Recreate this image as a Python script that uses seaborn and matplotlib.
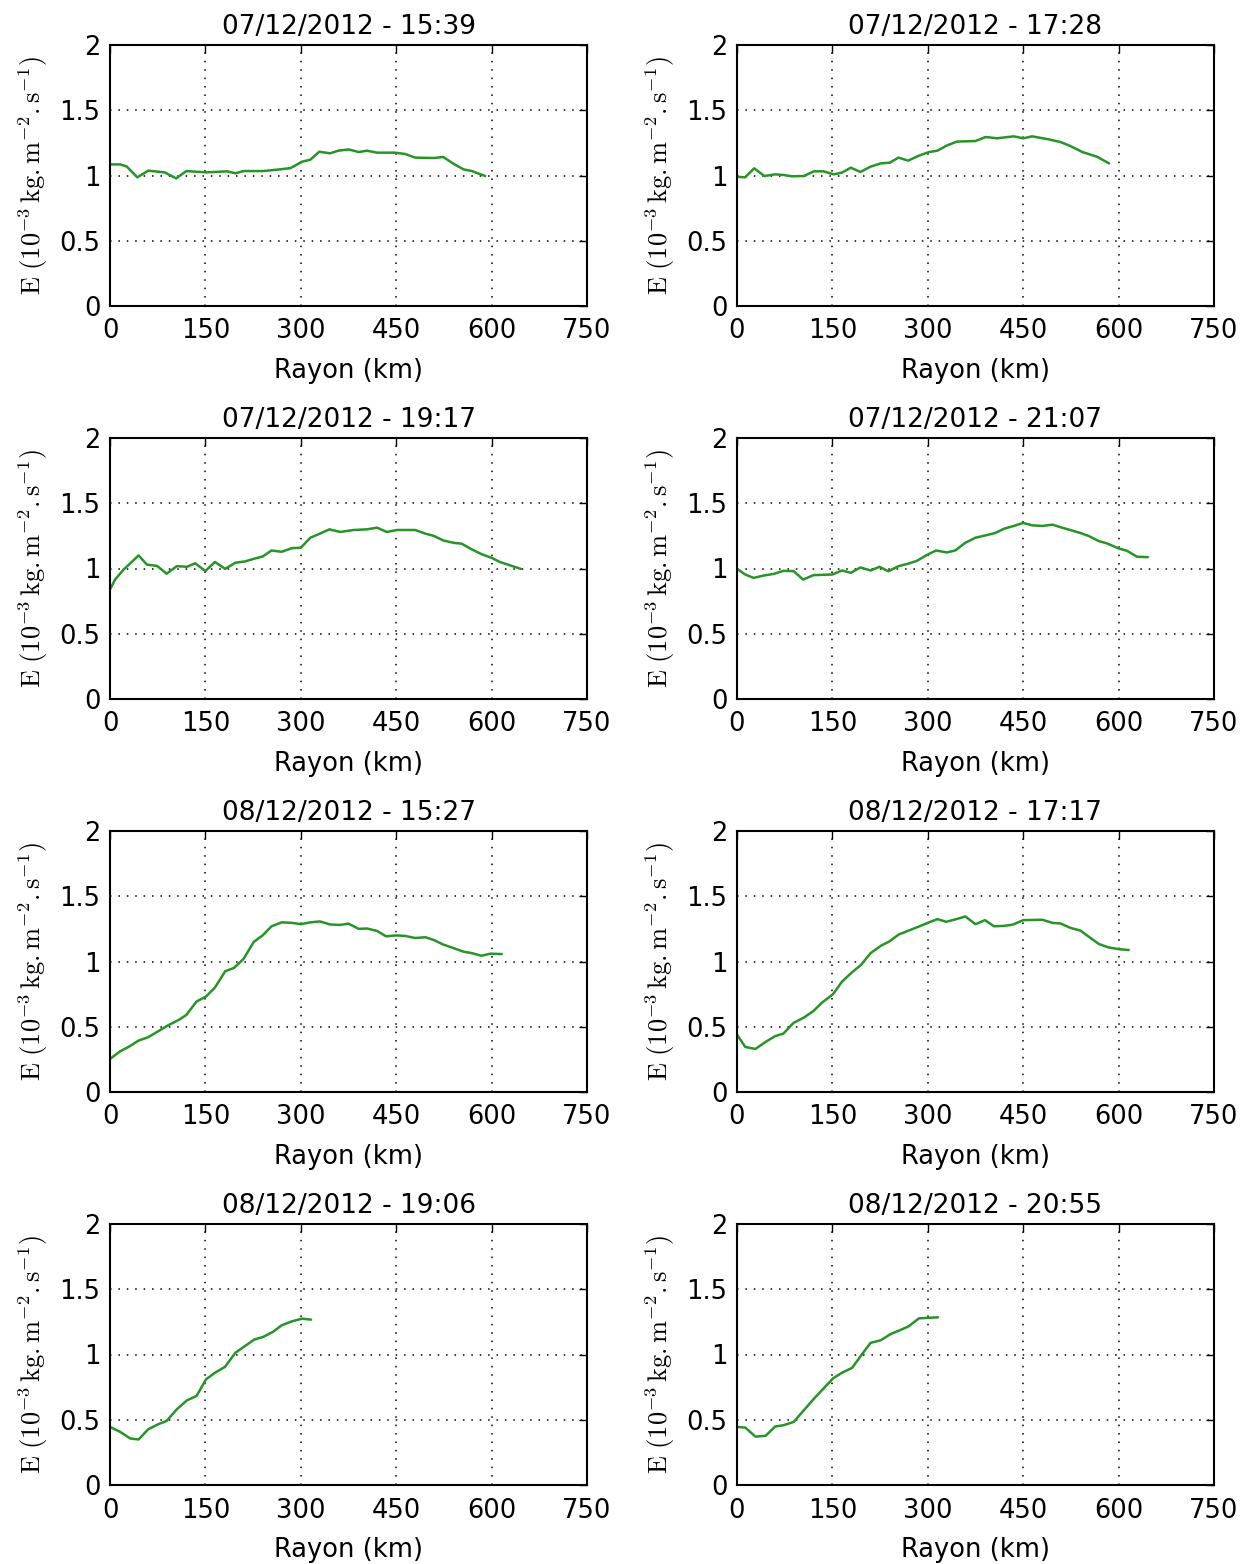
import numpy as np
import pandas as pd
import matplotlib
matplotlib.use("Agg")
import matplotlib.pyplot as plt
import seaborn as sns

titles = ["07/12/2012 - 15:39", "07/12/2012 - 17:28",
          "07/12/2012 - 19:17", "07/12/2012 - 21:07",
          "08/12/2012 - 15:27", "08/12/2012 - 17:17",
          "08/12/2012 - 19:06", "08/12/2012 - 20:55"]

x1 = [0, 16, 26, 43, 60, 86, 104, 120, 152, 184, 197, 210, 241, 267, 284, 302, 315, 329, 346, 359, 375, 391, 404, 420, 448, 464, 480, 509, 524, 540, 556, 569, 590]
y1 = [1.085, 1.085, 1.07, 0.986, 1.037, 1.024, 0.978, 1.034, 1.024, 1.032, 1.017, 1.034, 1.034, 1.047, 1.057, 1.106, 1.121, 1.182, 1.17, 1.19, 1.20, 1.18, 1.19, 1.175, 1.175, 1.165, 1.137, 1.134, 1.142, 1.09, 1.047, 1.034, 0.996]

x2 = [0, 13, 27, 43, 60, 73, 86, 105, 121, 136, 152, 165, 179, 194, 210, 226, 240, 254, 269, 286, 302, 315, 330, 346, 375, 391, 409, 435, 450, 464, 490, 509, 524, 543, 566, 585]
y2 = [0.99, 0.986, 1.055, 0.996, 1.009, 1.004, 0.994, 0.996, 1.032, 1.032, 1.009, 1.022, 1.06, 1.027, 1.068, 1.093, 1.098, 1.137, 1.114, 1.152, 1.18, 1.19, 1.23, 1.26, 1.264, 1.295, 1.285, 1.30, 1.285, 1.30, 1.277, 1.256, 1.226, 1.18, 1.144, 1.093]

x3 = [0, 8, 21, 45, 58, 74, 89, 105, 121, 134, 150, 165, 181, 197, 212, 226, 240, 254, 270, 286, 300, 315, 330, 345, 362, 383, 404, 420, 435, 451, 480, 496, 509, 524, 540, 553, 569, 585, 600, 613, 646]
y3 = [0.84, 0.915, 0.99, 1.10, 1.03, 1.02, 0.96, 1.018, 1.013, 1.04, 0.98, 1.05, 0.997, 1.044, 1.054, 1.074, 1.092, 1.138, 1.128, 1.156, 1.159, 1.236, 1.267, 1.30, 1.28, 1.295, 1.30, 1.313, 1.28, 1.295, 1.295, 1.267, 1.25, 1.215, 1.197, 1.19, 1.146, 1.108, 1.082, 1.05, 0.997]

x4 = [0, 13, 26, 42, 58, 73, 89, 104, 120, 150, 165, 179, 194, 210, 224, 238, 254, 270, 283, 299, 313, 330, 343, 359, 375, 391, 406, 420, 435, 450, 464, 480, 496, 511, 524, 540, 553, 569, 582, 600, 613, 629, 646]
y4 = [0.997, 0.954, 0.928, 0.946, 0.959, 0.982, 0.98, 0.915, 0.949, 0.954, 0.985, 0.967, 1.008, 0.985, 1.013, 0.979, 1.018, 1.038, 1.059, 1.105, 1.138, 1.123, 1.138, 1.197, 1.236, 1.254, 1.272, 1.305, 1.326, 1.349, 1.331, 1.326, 1.336, 1.313, 1.295, 1.272, 1.249, 1.21, 1.192, 1.154, 1.136, 1.09, 1.087]

x5 = [0, 16, 29, 45, 60, 76, 92, 108, 120, 136, 151, 165, 181, 195, 210, 226, 240, 254, 270, 286, 300, 315, 330, 346, 361, 375, 391, 404, 420, 434, 450, 464, 480, 496, 509, 524, 540, 556, 569, 584, 598, 616]
y5 = [0.253, 0.312, 0.345, 0.394, 0.42, 0.466, 0.513, 0.552, 0.59, 0.693, 0.732, 0.80, 0.925, 0.951, 1.02, 1.15, 1.20, 1.27, 1.30, 1.296, 1.286, 1.30, 1.307, 1.284, 1.28, 1.29, 1.25, 1.253, 1.234, 1.193, 1.20, 1.196, 1.18, 1.186, 1.165, 1.13, 1.103, 1.075, 1.064, 1.044, 1.06, 1.057]

x6 = [0, 13, 29, 45, 60, 73, 89, 105, 120, 134, 151, 165, 181, 195, 210, 226, 240, 254, 270, 286, 300, 315, 329, 345, 359, 375, 390, 404, 420, 434, 450, 480, 496, 509, 524, 540, 555, 569, 584, 600, 616]
y6 = [0.44, 0.345, 0.33, 0.384, 0.428, 0.448, 0.53, 0.57, 0.62, 0.686, 0.75, 0.845, 0.918, 0.974, 1.064, 1.12, 1.155, 1.206, 1.237, 1.268, 1.296, 1.325, 1.304, 1.325, 1.345, 1.286, 1.317, 1.27, 1.273, 1.283, 1.317, 1.32, 1.296, 1.291, 1.258, 1.237, 1.183, 1.134, 1.108, 1.095, 1.088]

x7 = [0, 16, 32, 45, 60, 76, 89, 105, 121, 136, 151, 165, 181, 197, 212, 227, 241, 256, 270, 286, 302, 316]
y7 = [0.445, 0.407, 0.356, 0.349, 0.427, 0.466, 0.491, 0.58, 0.649, 0.682, 0.81, 0.86, 0.906, 1.013, 1.064, 1.115, 1.135, 1.173, 1.224, 1.254, 1.275, 1.267]

x8 = [0, 13, 29, 45, 60, 73, 89, 120, 151, 165, 181, 197, 210, 226, 241, 256, 270, 286, 316]
y8 = [0.445, 0.44, 0.371, 0.377, 0.448, 0.458, 0.483, 0.656, 0.817, 0.86, 0.898, 1.005, 1.089, 1.109, 1.155, 1.186, 1.216, 1.277, 1.285]

xs = [x1, x2, x3, x4, x5, x6, x7, x8]
ys = [y1, y2, y3, y4, y5, y6, y7, y8]

xticks = [0, 150, 300, 450, 600, 750]
xticklabels = ["0", "150", "300", "450", "600", "750"]
yticks = [0, 0.5, 1, 1.5, 2]
yticklabels = ["0", "0.5", "1", "1.5", "2"]
xlabel = "Rayon (km)"
ylabel = r"$\mathrm{E\ (10^{-3}\,kg{.}m^{-2}{.}s^{-1})}$"

sns.set_style("white")
plt.rcParams.update({
    "font.family": ["DejaVu Sans"],
    "mathtext.fontset": "cm",
    "xtick.direction": "in",
    "ytick.direction": "in",
    "xtick.top": True,
    "ytick.right": True,
    "axes.edgecolor": "black",
    "axes.linewidth": 1.5,
    "text.color": "black",
    "axes.labelcolor": "black",
})

W, H = 1249, 1564
fig = plt.figure(figsize=(W / 100, H / 100), dpi=100)
lefts = [110, 737]
tops = [45, 438, 831, 1224]
aw, ah = 477, 261

for i in range(8):
    r, c = divmod(i, 2)
    ax = fig.add_axes([lefts[c] / W, 1 - (tops[r] + ah) / H, aw / W, ah / H])
    df = pd.DataFrame({"x": xs[i], "y": ys[i]})
    sns.lineplot(data=df, x="x", y="y", ax=ax, color="#279427", linewidth=1.8, sort=False)
    ax.set_xlim(0, 750)
    ax.set_ylim(0, 2)
    ax.set_xticks(xticks)
    ax.set_xticklabels(xticklabels)
    ax.set_yticks(yticks)
    ax.set_yticklabels(yticklabels)
    ax.tick_params(axis="both", labelsize=18.5, length=6, width=1, colors="black")
    ax.tick_params(axis="x", pad=9)
    ax.tick_params(axis="y", pad=7)
    ax.grid(True, color="black", linestyle=(0, (1, 4.5)), linewidth=1.1)
    ax.set_xlabel(xlabel, fontsize=18.5, labelpad=10)
    ax.set_ylabel(ylabel, fontsize=19, labelpad=7)
    ax.set_title(titles[i], fontsize=19, pad=8)
    for s in ax.spines.values():
        s.set_visible(True)
        s.set_color("black")

fig.savefig("out.png", dpi=100, facecolor="white")
